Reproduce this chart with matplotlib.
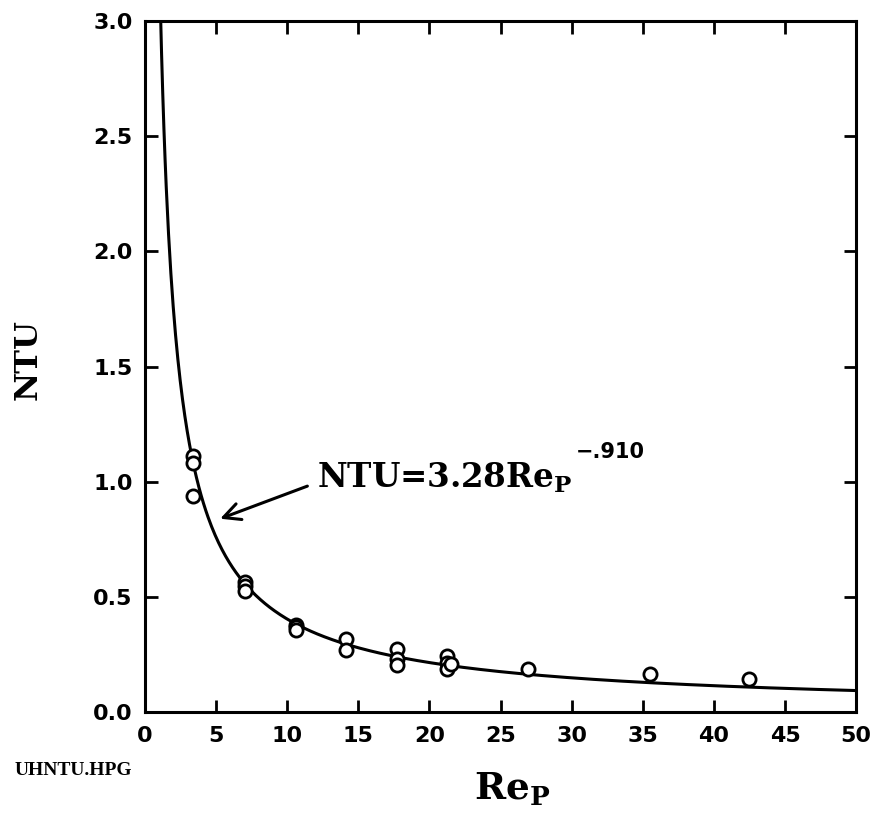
import numpy as np
import matplotlib
matplotlib.use("Agg")
import matplotlib.pyplot as plt

# Measured NTU values at each particle Reynolds number
re_p = [3.4, 3.4, 3.4,
        7.0, 7.0, 7.0,
        10.6, 10.6, 10.6,
        14.1, 14.1,
        17.7, 17.7, 17.7,
        21.2, 21.2, 21.2, 21.5,
        26.9, 35.5, 42.5]
ntu = [1.11, 1.08, 0.94,
       0.565, 0.545, 0.525,
       0.38, 0.37, 0.355,
       0.315, 0.27,
       0.275, 0.23, 0.205,
       0.245, 0.215, 0.185, 0.21,
       0.185, 0.165, 0.145]

# Correlation NTU = a * Re_p ** b
coef_a = 3.28
coef_b = -0.910
x_ticks = [0, 5, 10, 15, 20, 25, 30, 35, 40, 45, 50]
y_ticks = [0.0, 0.5, 1.0, 1.5, 2.0, 2.5, 3.0]

SERIF = "DejaVu Serif"
plt.rcParams["mathtext.fontset"] = "custom"
plt.rcParams["mathtext.rm"] = "DejaVu Serif:bold"

fig = plt.figure(figsize=(8.8, 8.19), dpi=100)
ax = fig.add_axes([0.1648, 0.1306, 0.808, 0.8438])

xc = np.linspace(1.0, 50, 600)
ax.plot(xc, coef_a * xc ** coef_b, color="black", lw=2.2)
ax.plot(re_p, ntu, linestyle="none", marker="o", ms=9.5, mfc="white",
        mec="black", mew=2.0)

ax.set_xlim(0, 50)
ax.set_ylim(0, 3.0)
ax.set_xticks(x_ticks)
ax.set_yticks(y_ticks)
ax.set_xticklabels([str(v) for v in x_ticks])
ax.set_yticklabels([f"{v:.1f}" for v in y_ticks])
ax.tick_params(direction="in", length=9, width=2, top=True, right=True)
ax.tick_params(axis="x", pad=10)
ax.tick_params(axis="y", pad=9)
for lab in ax.get_xticklabels() + ax.get_yticklabels():
    lab.set_fontfamily("DejaVu Sans")
    lab.set_fontweight("bold")
    lab.set_fontsize(16)
for sp in ax.spines.values():
    sp.set_linewidth(2.2)

ax.set_xlabel(r"Re$_{\rm P}$", family=SERIF, fontweight="bold", fontsize=27,
              va="top")
ax.xaxis.set_label_coords(0.516, -0.085)
ax.set_ylabel("NTU", family=SERIF, fontweight="bold", fontsize=23,
              va="center")
ax.yaxis.set_label_coords(-0.165, 0.51)

ax.annotate("", xy=(5.1, 0.835), xytext=(11.6, 0.985),
            arrowprops=dict(arrowstyle="->", color="black", lw=2.2,
                            mutation_scale=30))
eq_x, eq_y = 12.1, 0.975
eq = ax.text(eq_x, eq_y, r"NTU=3.28Re$_{\rm P}$", family=SERIF,
             fontweight="bold", fontsize=23.5, va="baseline", ha="left")
fig.canvas.draw()
bb = eq.get_window_extent()
base_px = ax.transData.transform((eq_x, eq_y))[1]
x_sup, y_sup = ax.transData.inverted().transform((bb.x1 + 3, base_px + 25))
ax.text(x_sup, y_sup, "\u2212.910", family="DejaVu Sans", fontweight="bold",
        fontsize=15, va="bottom", ha="left")

fig.text(0.017, 0.054, "UHNTU.HPG", family="Liberation Serif",
         fontweight="bold", fontsize=14)

fig.savefig("out.png", dpi=100)
